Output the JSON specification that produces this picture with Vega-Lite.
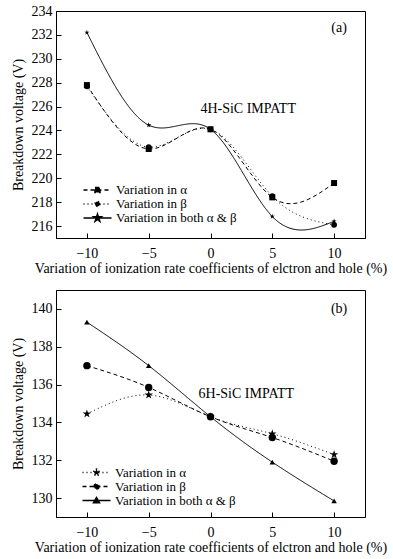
{
  "$schema": "https://vega.github.io/schema/vega-lite/v6.json",
  "background": "white",
  "padding": {"left": 10, "top": 3, "right": 0, "bottom": 0},
  "config": {
    "font": "Liberation Serif",
    "view": {"stroke": "black", "strokeWidth": 1},
    "axis": {
      "labelFont": "Liberation Serif", "titleFont": "Liberation Serif",
      "labelFontSize": 14, "titleFontSize": 14, "titleFontWeight": "normal",
      "labelColor": "black", "titleColor": "black",
      "domainColor": "black", "tickColor": "black", "tickSize": -5,
      "grid": false, "labelOverlap": false
    },
    "axisX": {"labelPadding": 13, "titlePadding": 1},
    "axisY": {"labelPadding": 9, "titlePadding": 6},
    "legend": {
      "labelFont": "Liberation Serif", "labelFontSize": 13, "labelColor": "black",
      "rowPadding": -2, "padding": 0, "labelOffset": 12, "symbolSize": 100
    },
    "concat": {"spacing": 13}
  },
  "vconcat": [
    {
      "width": 309, "height": 227,
      "data": {"values": [
        {"series": "Variation in α", "v": -10, "bv": 227.8},
        {"series": "Variation in α", "v": -5, "bv": 222.45},
        {"series": "Variation in α", "v": 0, "bv": 224.1},
        {"series": "Variation in α", "v": 5, "bv": 218.4},
        {"series": "Variation in α", "v": 10, "bv": 219.6},
        {"series": "Variation in β", "v": -10, "bv": 227.7},
        {"series": "Variation in β", "v": -5, "bv": 222.6},
        {"series": "Variation in β", "v": 0, "bv": 224.1},
        {"series": "Variation in β", "v": 5, "bv": 218.5},
        {"series": "Variation in β", "v": 10, "bv": 216.1},
        {"series": "Variation in both α & β", "v": -10, "bv": 232.2},
        {"series": "Variation in both α & β", "v": -5, "bv": 224.45},
        {"series": "Variation in both α & β", "v": 0, "bv": 224.1},
        {"series": "Variation in both α & β", "v": 5, "bv": 216.8},
        {"series": "Variation in both α & β", "v": 10, "bv": 216.4}
      ]},
      "layer": [
        {
          "mark": {"type": "line", "interpolate": "natural", "color": "black", "strokeWidth": 1},
          "encoding": {
            "x": {"field": "v", "type": "quantitative",
                  "scale": {"domain": [-12.5, 12.5], "nice": false, "zero": false},
                  "axis": {"values": [-10, -5, 0, 5, 10], "title": "Variation of ionization rate coefficients of elctron and hole (%)"}},
            "y": {"field": "bv", "type": "quantitative",
                  "scale": {"domain": [215, 234], "nice": false, "zero": false},
                  "axis": {"values": [216, 218, 220, 222, 224, 226, 228, 230, 232, 234], "title": "Breakdown voltage (V)"}},
            "detail": {"field": "series"},
            "strokeDash": {"field": "series", "type": "nominal", "legend": null,
              "scale": {"domain": ["Variation in α", "Variation in β", "Variation in both α & β"], "range": [[4, 3], [1, 3], [1, 0]]}}
          }
        },
        {
          "mark": {"type": "point", "filled": true, "color": "black", "opacity": 1},
          "encoding": {
            "x": {"field": "v", "type": "quantitative",
                  "scale": {"domain": [-12.5, 12.5], "nice": false, "zero": false},
                  "axis": {"values": [-10, -5, 0, 5, 10], "title": "Variation of ionization rate coefficients of elctron and hole (%)"}},
            "y": {"field": "bv", "type": "quantitative",
                  "scale": {"domain": [215, 234], "nice": false, "zero": false},
                  "axis": {"values": [216, 218, 220, 222, 224, 226, 228, 230, 232, 234], "title": "Breakdown voltage (V)"}},
            "shape": {"field": "series", "type": "nominal", "legend": null,
              "scale": {"domain": ["Variation in α", "Variation in β", "Variation in both α & β"],
                "range": ["square", "circle", "M0,-1L0.223,-0.307L0.951,-0.309L0.361,0.117L0.588,0.809L0,0.38L-0.588,0.809L-0.361,0.117L-0.951,-0.309L-0.223,-0.307Z"]}},
            "size": {"field": "series", "type": "nominal", "legend": null,
              "scale": {"domain": ["Variation in α", "Variation in β", "Variation in both α & β"], "range": [36, 30, 80]}}
          }
        },
        {
          "mark": {"type": "point", "filled": true, "fill": "black", "stroke": "black", "strokeWidth": 1, "opacity": 0, "size": 100},
          "encoding": {
            "x": {"field": "v", "type": "quantitative",
                  "scale": {"domain": [-12.5, 12.5], "nice": false, "zero": false},
                  "axis": {"values": [-10, -5, 0, 5, 10], "title": "Variation of ionization rate coefficients of elctron and hole (%)"}},
            "y": {"field": "bv", "type": "quantitative",
                  "scale": {"domain": [215, 234], "nice": false, "zero": false},
                  "axis": {"values": [216, 218, 220, 222, 224, 226, 228, 230, 232, 234], "title": "Breakdown voltage (V)"}},
            "shape": {"field": "series", "type": "nominal",
              "scale": {"domain": ["Variation in α", "Variation in β", "Variation in both α & β"],
                "range": ["M-2.8,0H2.8M-0.5,-0.5H0.5V0.5H-0.5Z",
                          "M-2.8,0H2.8M0.5,0A0.5,0.5 0 1,1 -0.5,0A0.5,0.5 0 1,1 0.5,0Z",
                          "M-2.8,0H2.8M0,-0.8L0.18,-0.25L0.76,-0.25L0.29,0.09L0.47,0.65L0,0.3L-0.47,0.65L-0.29,0.09L-0.76,-0.25L-0.18,-0.25Z"]},
              "legend": {"title": null, "orient": "none", "legendX": 35, "legendY": 172.5, "rowPadding": -2,
                "encode": {"symbols": {"update": {"opacity": {"value": 1}, "fill": {"value": "black"}, "stroke": {"value": "black"}, "strokeWidth": {"value": 1}}}}}},
            "strokeDash": {"field": "series", "type": "nominal",
              "scale": {"domain": ["Variation in α", "Variation in β", "Variation in both α & β"], "range": [[4, 3], [1, 3], [1, 0]]},
              "legend": {"title": null, "orient": "none", "legendX": 35, "legendY": 172.5, "rowPadding": -2}}
          }
        },
        {
          "data": {"values": [{"label": "(a)"}]},
          "mark": {"type": "text", "font": "Liberation Serif", "fontSize": 14, "color": "black"},
          "encoding": {
            "x": {"datum": 10.4, "type": "quantitative",
                  "scale": {"domain": [-12.5, 12.5], "nice": false, "zero": false},
                  "axis": {"values": [-10, -5, 0, 5, 10], "title": "Variation of ionization rate coefficients of elctron and hole (%)"}},
            "y": {"datum": 232.6, "type": "quantitative",
                  "scale": {"domain": [215, 234], "nice": false, "zero": false},
                  "axis": {"values": [216, 218, 220, 222, 224, 226, 228, 230, 232, 234], "title": "Breakdown voltage (V)"}},
            "text": {"field": "label"}}
        },
        {
          "data": {"values": [{"label": "4H-SiC IMPATT"}]},
          "mark": {"type": "text", "font": "Liberation Serif", "fontSize": 14, "color": "black"},
          "encoding": {
            "x": {"datum": 3.05, "type": "quantitative",
                  "scale": {"domain": [-12.5, 12.5], "nice": false, "zero": false},
                  "axis": {"values": [-10, -5, 0, 5, 10], "title": "Variation of ionization rate coefficients of elctron and hole (%)"}},
            "y": {"datum": 225.8, "type": "quantitative",
                  "scale": {"domain": [215, 234], "nice": false, "zero": false},
                  "axis": {"values": [216, 218, 220, 222, 224, 226, 228, 230, 232, 234], "title": "Breakdown voltage (V)"}},
            "text": {"field": "label"}}
        }
      ],
      "resolve": {"scale": {"shape": "independent", "strokeDash": "independent"}, "legend": {"shape": "independent", "strokeDash": "independent"}}
    },
    {
      "width": 309, "height": 227,
      "data": {"values": [
        {"series": "Variation in α", "v": -10, "bv": 134.45},
        {"series": "Variation in α", "v": -5, "bv": 135.45},
        {"series": "Variation in α", "v": 0, "bv": 134.3},
        {"series": "Variation in α", "v": 5, "bv": 133.4},
        {"series": "Variation in α", "v": 10, "bv": 132.3},
        {"series": "Variation in β", "v": -10, "bv": 137.0},
        {"series": "Variation in β", "v": -5, "bv": 135.85},
        {"series": "Variation in β", "v": 0, "bv": 134.3},
        {"series": "Variation in β", "v": 5, "bv": 133.2},
        {"series": "Variation in β", "v": 10, "bv": 131.95},
        {"series": "Variation in both α & β", "v": -10, "bv": 139.3},
        {"series": "Variation in both α & β", "v": -5, "bv": 137.0},
        {"series": "Variation in both α & β", "v": 0, "bv": 134.3},
        {"series": "Variation in both α & β", "v": 5, "bv": 131.9},
        {"series": "Variation in both α & β", "v": 10, "bv": 129.85}
      ]},
      "layer": [
        {
          "mark": {"type": "line", "interpolate": "natural", "color": "black", "strokeWidth": 1},
          "encoding": {
            "x": {"field": "v", "type": "quantitative",
                  "scale": {"domain": [-12.5, 12.5], "nice": false, "zero": false},
                  "axis": {"values": [-10, -5, 0, 5, 10], "title": "Variation of ionization rate coefficients of elctron and hole (%)"}},
            "y": {"field": "bv", "type": "quantitative",
                  "scale": {"domain": [129, 141], "nice": false, "zero": false},
                  "axis": {"values": [130, 132, 134, 136, 138, 140], "title": "Breakdown voltage (V)"}},
            "detail": {"field": "series"},
            "strokeDash": {"field": "series", "type": "nominal", "legend": null,
              "scale": {"domain": ["Variation in α", "Variation in β", "Variation in both α & β"], "range": [[1, 3], [4, 3], [1, 0]]}}
          }
        },
        {
          "mark": {"type": "point", "filled": true, "color": "black", "opacity": 1},
          "encoding": {
            "x": {"field": "v", "type": "quantitative",
                  "scale": {"domain": [-12.5, 12.5], "nice": false, "zero": false},
                  "axis": {"values": [-10, -5, 0, 5, 10], "title": "Variation of ionization rate coefficients of elctron and hole (%)"}},
            "y": {"field": "bv", "type": "quantitative",
                  "scale": {"domain": [129, 141], "nice": false, "zero": false},
                  "axis": {"values": [130, 132, 134, 136, 138, 140], "title": "Breakdown voltage (V)"}},
            "shape": {"field": "series", "type": "nominal", "legend": null,
              "scale": {"domain": ["Variation in α", "Variation in β", "Variation in both α & β"],
                "range": ["M0,-1L0.223,-0.307L0.951,-0.309L0.361,0.117L0.588,0.809L0,0.38L-0.588,0.809L-0.361,0.117L-0.951,-0.309L-0.223,-0.307Z", "circle", "triangle-up"]}},
            "size": {"field": "series", "type": "nominal", "legend": null,
              "scale": {"domain": ["Variation in α", "Variation in β", "Variation in both α & β"], "range": [80, 30, 45]}}
          }
        },
        {
          "mark": {"type": "point", "filled": true, "fill": "black", "stroke": "black", "strokeWidth": 1, "opacity": 0, "size": 100},
          "encoding": {
            "x": {"field": "v", "type": "quantitative",
                  "scale": {"domain": [-12.5, 12.5], "nice": false, "zero": false},
                  "axis": {"values": [-10, -5, 0, 5, 10], "title": "Variation of ionization rate coefficients of elctron and hole (%)"}},
            "y": {"field": "bv", "type": "quantitative",
                  "scale": {"domain": [129, 141], "nice": false, "zero": false},
                  "axis": {"values": [130, 132, 134, 136, 138, 140], "title": "Breakdown voltage (V)"}},
            "shape": {"field": "series", "type": "nominal",
              "scale": {"domain": ["Variation in α", "Variation in β", "Variation in both α & β"],
                "range": ["M-2.8,0H2.8M0,-0.8L0.18,-0.25L0.76,-0.25L0.29,0.09L0.47,0.65L0,0.3L-0.47,0.65L-0.29,0.09L-0.76,-0.25L-0.18,-0.25Z",
                          "M-2.8,0H2.8M0.5,0A0.5,0.5 0 1,1 -0.5,0A0.5,0.5 0 1,1 0.5,0Z",
                          "M-2.8,0H2.8M0,-0.6L0.6,0.45L-0.6,0.45Z"]},
              "legend": {"title": null, "orient": "none", "legendX": 34, "legendY": 176, "rowPadding": -2,
                "encode": {"symbols": {"update": {"opacity": {"value": 1}, "fill": {"value": "black"}, "stroke": {"value": "black"}, "strokeWidth": {"value": 1}}}}}},
            "strokeDash": {"field": "series", "type": "nominal",
              "scale": {"domain": ["Variation in α", "Variation in β", "Variation in both α & β"], "range": [[1, 3], [4, 3], [1, 0]]},
              "legend": {"title": null, "orient": "none", "legendX": 34, "legendY": 176, "rowPadding": -2}}
          }
        },
        {
          "data": {"values": [{"label": "(b)"}]},
          "mark": {"type": "text", "font": "Liberation Serif", "fontSize": 14, "color": "black"},
          "encoding": {
            "x": {"datum": 10.4, "type": "quantitative",
                  "scale": {"domain": [-12.5, 12.5], "nice": false, "zero": false},
                  "axis": {"values": [-10, -5, 0, 5, 10], "title": "Variation of ionization rate coefficients of elctron and hole (%)"}},
            "y": {"datum": 140.0, "type": "quantitative",
                  "scale": {"domain": [129, 141], "nice": false, "zero": false},
                  "axis": {"values": [130, 132, 134, 136, 138, 140], "title": "Breakdown voltage (V)"}},
            "text": {"field": "label"}}
        },
        {
          "data": {"values": [{"label": "6H-SiC IMPATT"}]},
          "mark": {"type": "text", "font": "Liberation Serif", "fontSize": 14, "color": "black"},
          "encoding": {
            "x": {"datum": 2.9, "type": "quantitative",
                  "scale": {"domain": [-12.5, 12.5], "nice": false, "zero": false},
                  "axis": {"values": [-10, -5, 0, 5, 10], "title": "Variation of ionization rate coefficients of elctron and hole (%)"}},
            "y": {"datum": 135.5, "type": "quantitative",
                  "scale": {"domain": [129, 141], "nice": false, "zero": false},
                  "axis": {"values": [130, 132, 134, 136, 138, 140], "title": "Breakdown voltage (V)"}},
            "text": {"field": "label"}}
        }
      ],
      "resolve": {"scale": {"shape": "independent", "strokeDash": "independent"}, "legend": {"shape": "independent", "strokeDash": "independent"}}
    }
  ],
  "resolve": {"scale": {"x": "independent", "y": "independent", "shape": "independent", "strokeDash": "independent", "size": "independent"}}
}
